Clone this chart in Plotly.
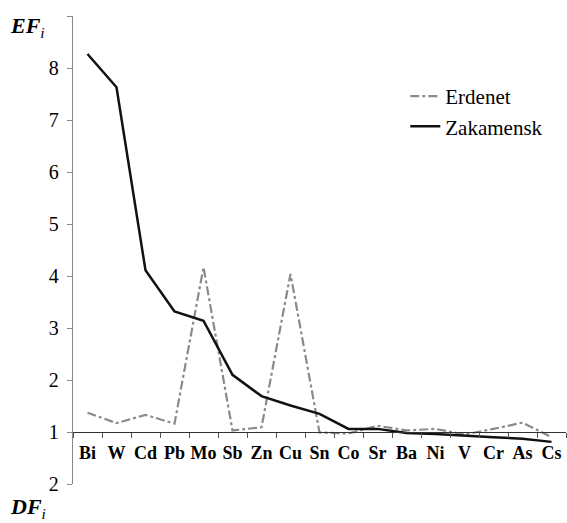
import plotly.graph_objects as go

categories = ["Bi", "W", "Cd", "Pb", "Mo", "Sb", "Zn", "Cu", "Sn", "Co",
              "Sr", "Ba", "Ni", "V", "Cr", "As", "Cs"]
erdenet = [1.37, 1.17, 1.33, 1.16, 4.17, 1.03, 1.09, 4.04, 0.99, 0.97,
           1.12, 1.03, 1.06, 0.95, 1.06, 1.18, 0.90]
zakamensk = [8.27, 7.63, 4.11, 3.32, 3.14, 2.10, 1.69, 1.51, 1.35, 1.06,
             1.06, 0.98, 0.96, 0.935, 0.90, 0.87, 0.81]
y_tickvals = [0, 1, 2, 3, 4, 5, 6, 7, 8, 9]
y_ticktext = ["2", "1", "2", "3", "4", "5", "6", "7", "8", " "]

FONT = "Liberation Serif"

fig = go.Figure()
fig.add_trace(go.Scatter(x=categories, y=erdenet, mode="lines", name="Erdenet",
                         line=dict(color="#8a8a8a", width=2.2, dash="dashdot")))
fig.add_trace(go.Scatter(x=categories, y=zakamensk, mode="lines", name="Zakamensk",
                         line=dict(color="#111111", width=2.5)))

fig.update_layout(
    width=567, height=523,
    margin=dict(l=73, r=1, t=16, b=39),
    plot_bgcolor="white", paper_bgcolor="white",
    font=dict(family=FONT, color="black"),
    showlegend=True,
    legend=dict(x=0.674, y=0.872, xanchor="left", yanchor="top",
                font=dict(family=FONT, size=21, color="black"),
                bgcolor="rgba(0,0,0,0)", itemwidth=30, tracegroupgap=0),
    xaxis=dict(
        type="category", categoryorder="array", categoryarray=categories,
        range=[-0.5, 16.5], anchor="free", position=1/9,
        showline=True, linecolor="#333333", linewidth=1.3,
        ticks="outside", ticklen=5, tickcolor="#555555", tickson="boundaries",
        showgrid=False, zeroline=False, tickangle=0, ticklabelstandoff=4,
        tickfont=dict(family=FONT, size=18, color="black", weight="bold"),
    ),
    yaxis=dict(
        range=[0, 9], tickvals=y_tickvals, ticktext=y_ticktext,
        showline=True, linecolor="#888888", linewidth=1.3,
        ticks="outside", ticklen=5, tickcolor="#888888",
        showgrid=False, zeroline=False,
        tickfont=dict(family=FONT, size=20, color="black"),
        ticklabelstandoff=4,
    ),
)

fig.add_annotation(xref="paper", yref="paper", x=-0.092, y=0.977, xanchor="center", yanchor="middle",
                   text="<b><i>EF</i></b><sub><i>i</i></sub>", showarrow=False,
                   font=dict(family=FONT, size=22, color="black"))
fig.add_annotation(xref="paper", yref="paper", x=-0.092, y=-0.051, xanchor="center", yanchor="middle",
                   text="<b><i>DF</i></b><sub><i>i</i></sub>", showarrow=False,
                   font=dict(family=FONT, size=22, color="black"))

fig.write_html("out.html")
